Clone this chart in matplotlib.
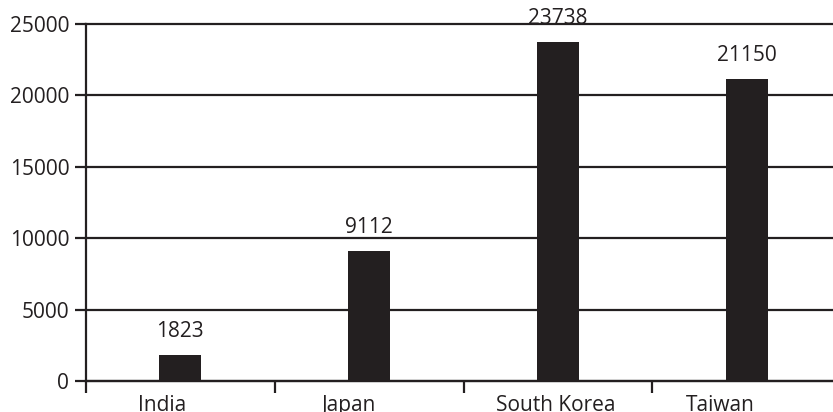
import matplotlib
matplotlib.use("Agg")
import matplotlib.pyplot as plt
import numpy as np

# data
countries = ["India", "Japan", "South Korea", "Taiwan"]
values = [1823, 9112, 23738, 21150]
yticks = [0, 5000, 10000, 15000, 20000, 25000]
# label nudges (category units) as seen in the original layout
label_shift = [-0.095, -0.11, -0.01, -0.14]

INK = "#231f20"
plt.rcParams["font.family"] = ["Open Sans", "DejaVu Sans"]

fig = plt.figure(figsize=(8.33, 4.12), dpi=100)
ax = fig.add_axes([86/833, 31/412, 755/833, 357/412])

x = np.arange(len(countries)) + 0.5
ax.bar(x, values, width=0.222, color=INK, zorder=3)

for xi, v in zip(x, values):
    ax.annotate(str(v), xy=(xi, v), xytext=(0, 13), textcoords="offset points",
                ha="center", va="baseline", fontsize=15, color=INK)

ax.set_xlim(0, len(countries))
ax.set_ylim(0, 25000)
ax.set_yticks(yticks)
ax.set_yticklabels([str(t) for t in yticks])
ax.set_xticks(np.arange(len(countries) + 1))
ax.set_xticklabels([])

for t in yticks:
    ax.axhline(t, color=INK, lw=1.6, zorder=1, clip_on=False)

for xi, name, dx in zip(x, countries, label_shift):
    ax.annotate(name, xy=(xi + dx, 0), xytext=(0, -10), textcoords="offset points",
                ha="center", va="top", fontsize=15, color=INK, annotation_clip=False)

for s in ["top", "right"]:
    ax.spines[s].set_visible(False)
ax.spines["left"].set_color(INK); ax.spines["left"].set_linewidth(1.6)
ax.spines["bottom"].set_color(INK); ax.spines["bottom"].set_linewidth(1.6)
ax.tick_params(axis="y", direction="out", length=8, width=1.6, color=INK,
               labelsize=15, labelcolor=INK, pad=4)
ax.tick_params(axis="x", direction="out", length=8.5, width=1.6, color=INK)

fig.savefig("out.png", dpi=100)
